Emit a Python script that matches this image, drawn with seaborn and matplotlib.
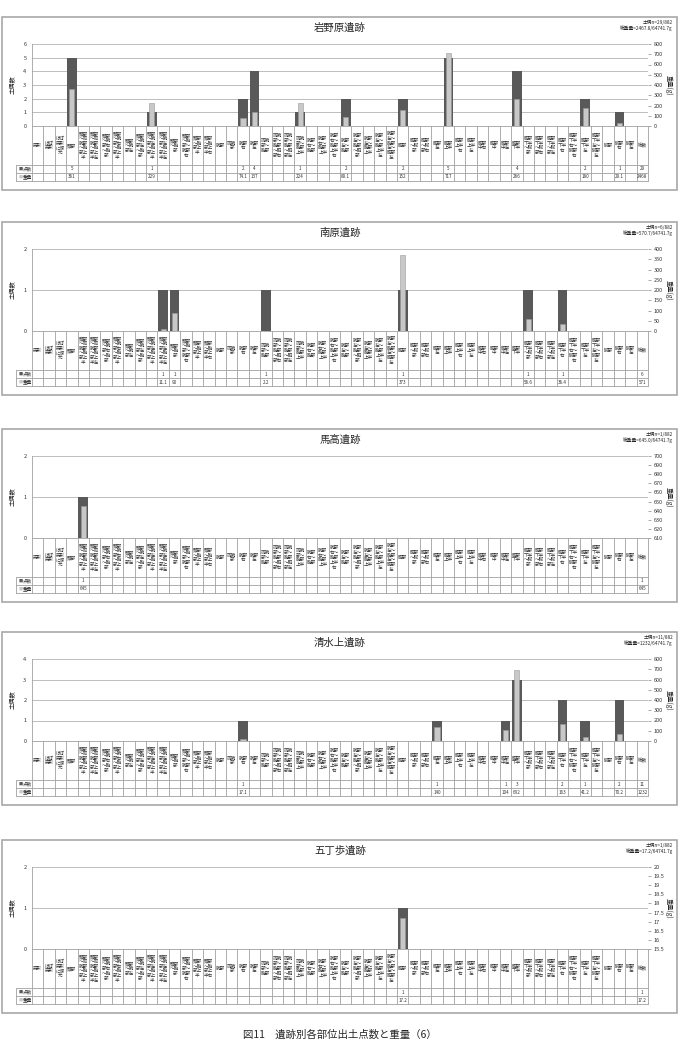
import matplotlib
matplotlib.use("Agg")
import matplotlib.pyplot as plt
import seaborn as sns
import numpy as np
import pandas as pd
from matplotlib.patches import Rectangle
from matplotlib.lines import Line2D

sns.set_theme(style="white")
plt.rcParams['font.family'] = ['Noto Sans CJK JP', 'DejaVu Sans']

# ---------------- data ----------------
categories = [
    "完形", "ほぼ完形", "ほぼ完形に復元", "頭部",
    "頭部～両腕部～胸部上半", "頭部～両腕部～胸部上半左",
    "頭部～腕部右～胸部", "頭部～腕部右～胸部上半",
    "頭部～腕部左", "頭部～腕部左～胸部", "頭部～腕部左～胸部上半",
    "頭部～腕部左～胸部上半左", "頭部～胸部", "頭部～胸部～腕部右",
    "頭部～胸部上半", "頭部～胸部上半右", "腕部", "両腕部", "腕部右", "腕部左",
    "両腕部～胸部", "両腕部～胸部～胴部右", "両腕部～胸部～胴部左",
    "両腕部～胸部上半", "腕部右～胸部", "腕部右～胸部上半",
    "腕部右～胸部上半右", "腕部左～胸部", "腕部左～胸部～胴部",
    "腕部左～胸部上半", "腕部左～胸部上半左", "腕部左～胸部左～胴部左",
    "胴部", "胴部～脚部", "胴部～脚部右", "胴部左", "胴部上半",
    "胴部上半右", "胴部上半左", "胴部中右", "胴部中", "胴部中左",
    "胴部下半", "胴部下半～脚部", "胴部下半～脚部右", "胴部下半～脚部左",
    "胴部下半右", "胴部下半右～脚部右", "胴部下半左", "胴部下半左～脚部左",
    "脚部", "脚部右", "脚部左",
]
total_label = "総数"
row_labels = ["点数", "重量"]

site_titles = ["岩野原遺跡", "南原遺跡", "馬高遺跡", "清水上遺跡", "五丁歩遺跡"]
site_n_text = ["土偶n=29/882", "土偶n=6/882", "土偶n=1/882", "土偶n=11/882", "土偶n=1/882"]
site_w_text = ["総重量=2467.8/64741.7g", "総重量=570.7/64741.7g", "総重量=645.0/64741.7g",
               "総重量=1232/64741.7g", "総重量=17.2/64741.7g"]

iwanohara_parts = ["頭部", "頭部～腕部左～胸部上半", "腕部右", "腕部左", "両腕部～胸部上半",
                   "腕部左～胸部", "胴部", "胴部上半", "胴部下半", "胴部下半左", "脚部右"]
iwanohara_counts = [5, 1, 2, 4, 1, 2, 2, 5, 4, 2, 1]
iwanohara_weights = [361, 229, 74.1, 137, 224, 89.1, 152, 717, 266, 180, 29.1]

minamihara_parts = ["頭部～腕部左～胸部上半左", "頭部～胸部", "両腕部～胸部", "胴部",
                    "胴部下半～脚部", "胴部下半右"]
minamihara_counts = [1, 1, 1, 1, 1, 1]
minamihara_weights = [11.1, 90, 2.2, 373, 56.6, 36.4]

umataka_parts = ["頭部～両腕部～胸部上半"]
umataka_counts = [1]
umataka_weights = [645]

shimizunokami_parts = ["腕部右", "胴部左", "胴部中左", "胴部下半", "胴部下半右", "胴部下半左", "脚部右"]
shimizunokami_counts = [1, 1, 1, 3, 2, 1, 2]
shimizunokami_weights = [17.1, 140, 104, 692, 163, 41.2, 70.2]

gochobu_parts = ["胴部"]
gochobu_counts = [1]
gochobu_weights = [17.2]

total_counts = [29, 6, 1, 11, 1]
total_weights = [2468, 571, 645, 1232, 17.2]

left_max = [6, 2, 2, 4, 2]
right_ranges = [(0, 800, 100), (0, 400, 50), (610, 700, 10), (0, 800, 100), (15.5, 20, 0.5)]

site_parts = [iwanohara_parts, minamihara_parts, umataka_parts, shimizunokami_parts, gochobu_parts]
site_counts = [iwanohara_counts, minamihara_counts, umataka_counts, shimizunokami_counts, gochobu_counts]
site_weights = [iwanohara_weights, minamihara_weights, umataka_weights, shimizunokami_weights, gochobu_weights]

# ---------------- style ----------------
DARK = "#595959"
LIGHT = "#c8c8c8"
GRID = "#bdbdbd"
LINE = "#a0a0a0"

W, H = 680, 1050
fig = plt.figure(figsize=(6.8, 10.5), dpi=100)
fig.patch.set_facecolor("white")


def fx(px):
    return px / W


def fy(py):
    return 1 - py / H


def fmt(v):
    if float(v).is_integer():
        return str(int(v))
    return f"{v:g}"


box_tops = [17, 222, 429, 632, 840]
PX0, PX1 = 32, 648
ncols = len(categories) + 1
unit = (PX1 - PX0) / ncols

for k in range(5):
    B = box_tops[k]
    # panel frame
    fig.add_artist(Rectangle((fx(2), fy(B + 173)), fx(677) - fx(2), 173 / H,
                             transform=fig.transFigure, fill=False,
                             edgecolor="#a8a8a8", lw=1.2))
    fig.text(fx(340), fy(B + 11), site_titles[k], ha="center", va="center", fontsize=7.5)
    fig.text(fx(673), fy(B + 5), site_n_text[k], ha="right", va="center", fontsize=3.4)
    fig.text(fx(673), fy(B + 11), site_w_text[k], ha="right", va="center", fontsize=3.4)

    df = pd.DataFrame({"part": site_parts[k], "count": site_counts[k], "weight": site_weights[k]})

    ax = fig.add_axes([fx(PX0), fy(B + 109), fx(PX1) - fx(PX0), 82 / H])
    sns.barplot(data=df, x="part", y="count", order=categories, color=DARK, saturation=1,
                width=0.85, errorbar=None, linewidth=0, ax=ax)
    ax2 = ax.twinx()
    sns.barplot(data=df, x="part", y="weight", order=categories, color=LIGHT, saturation=1,
                width=0.45, errorbar=None, edgecolor="#9a9a9a", linewidth=0.4, ax=ax2)

    ax.set_xlim(-0.5, ncols - 0.5)
    ax2.set_xlim(-0.5, ncols - 0.5)
    ax.set_ylim(0, left_max[k])
    ax.set_yticks(range(left_max[k] + 1))
    r0, r1, rs = right_ranges[k]
    ax2.set_ylim(r0, r1)
    rt = np.arange(r0, r1 + rs / 2, rs)
    ax2.set_yticks(rt)
    ax2.set_yticklabels([fmt(round(v, 2)) for v in rt])

    for a in (ax, ax2):
        a.set_xlabel("")
        a.set_ylabel("")
        a.tick_params(axis="x", length=0, labelbottom=False)
        a.set_facecolor("none")
        for s in a.spines.values():
            s.set_visible(False)
    ax.yaxis.grid(True, color=GRID, lw=0.7)
    ax.set_axisbelow(True)
    ax.spines["left"].set_visible(True)
    ax.spines["left"].set_color(LINE)
    ax.spines["left"].set_linewidth(0.6)
    ax.tick_params(axis="y", labelsize=4, length=0, pad=4, colors="#333333")
    ax2.tick_params(axis="y", labelsize=4, length=2, width=0.5, pad=2,
                    colors="#333333", color="#888888")

    fig.text(fx(13), fy(B + 68), "土偶数", rotation=90, ha="center", va="center", fontsize=4.5)
    fig.text(fx(669), fy(B + 68), "重量(g)", rotation=270, ha="center", va="center", fontsize=4.5)

    # ---------------- table ----------------
    axt = fig.add_axes([fx(PX0), fy(B + 164), fx(PX1) - fx(PX0), 55 / H])
    axt.set_xlim(-0.5, ncols - 0.5)
    axt.set_ylim(0, 55)
    axt.axis("off")
    xl = -0.5 - 16 / unit
    lk = dict(color=LINE, lw=0.6, clip_on=False)
    axt.add_line(Line2D([-0.5, ncols - 0.5], [55, 55], **lk))
    for yv in (16, 8, 0):
        axt.add_line(Line2D([xl, ncols - 0.5], [yv, yv], **lk))
    for i in range(ncols + 1):
        axt.add_line(Line2D([i - 0.5, i - 0.5], [0, 55], **lk))
    axt.add_line(Line2D([xl, xl], [0, 16], **lk))

    for i, c in enumerate(categories + [total_label]):
        wrapped = "\n".join(c[j:j + 2] for j in range(0, len(c), 2))
        axt.text(i, 35.5, wrapped, ha="center", va="center", fontsize=3.3,
                 linespacing=0.95, color="#333333")

    axt.text(xl + 0.2, 12, "■", color=DARK, ha="left", va="center", fontsize=3.0)
    axt.text(xl + 0.6, 12, row_labels[0], ha="left", va="center", fontsize=3.3, color="#333333")
    axt.text(xl + 0.2, 4, "■", color=LIGHT, ha="left", va="center", fontsize=3.0)
    axt.text(xl + 0.6, 4, row_labels[1], ha="left", va="center", fontsize=3.3, color="#333333")

    for p, cnt, wt in zip(site_parts[k], site_counts[k], site_weights[k]):
        i = categories.index(p)
        axt.text(i, 12, fmt(cnt), ha="center", va="center", fontsize=3.3, color="#333333")
        axt.text(i, 4, fmt(wt), ha="center", va="center", fontsize=3.3, color="#333333")
    it = ncols - 1
    axt.text(it, 12, fmt(total_counts[k]), ha="center", va="center", fontsize=3.3, color="#333333")
    axt.text(it, 4, fmt(total_weights[k]), ha="center", va="center", fontsize=3.3, color="#333333")

fig.text(fx(340), fy(1035), "図11　遺跡別各部位出土点数と重量（6）", ha="center", va="center",
         fontsize=7.5)

fig.savefig("out.png", dpi=100, facecolor="white")
